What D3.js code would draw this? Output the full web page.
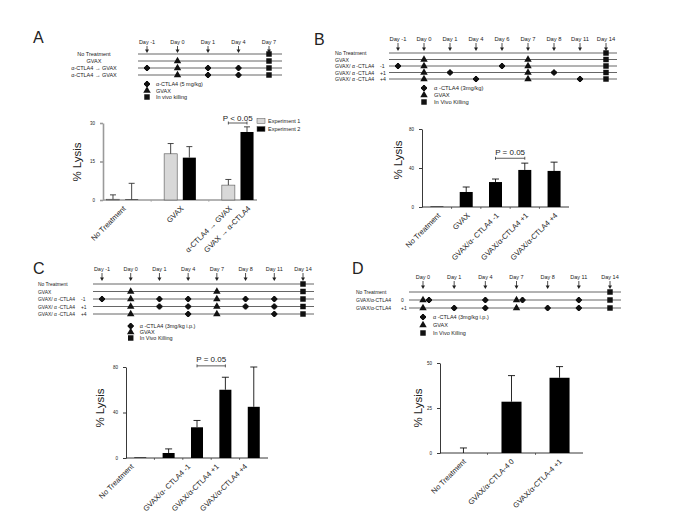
<!DOCTYPE html>
<html>
<head>
<meta charset="utf-8">
<script src="https://cdn.jsdelivr.net/npm/d3@7"></script>
<style>
  body { margin: 0; background: #fff; }
  text { font-family: "Liberation Sans", Arial, Helvetica, sans-serif; fill: #222; }
</style>
</head>
<body>
<script>
// ---------- panel A data ----------
const aDays = ["Day -1", "Day 0", "Day 1", "Day 4", "Day 7"];
const aRows = ["No Treatment", "GVAX", "α-CTLA4 → GVAX", "α-CTLA4 → GVAX"];
const aEvents = [
  [0, "Day 7", "kill"],
  [1, "Day 0", "gvax"], [1, "Day 7", "kill"],
  [2, "Day -1", "ab"], [2, "Day 0", "gvax"], [2, "Day 1", "ab"], [2, "Day 4", "ab"], [2, "Day 7", "kill"],
  [3, "Day 0", "gvax"], [3, "Day 1", "ab"], [3, "Day 4", "ab"], [3, "Day 7", "kill"]
];
const aLegend = ["α-CTLA4 (5 mg/kg)", "GVAX", "In vivo killing"];
const aGroups = ["No Treatment", "GVAX", "Sequence"];
const aSeries = ["Experiment 1", "Experiment 2"];
const aExp1 = [0.3, 18, 5.8];
const aExp1Err = [1.7, 4, 2.2];
const aExp2 = [0.2, 16.5, 26.5];
const aExp2Err = [6.3, 4.3, 2];
const aTicks = [0, 15, 30];
const aLabels = [
  ["No Treatment", "No Treatment"],
  ["GVAX", "GVAX"],
  ["α-CTLA4 → GVAX", "Sequence", "Experiment 1"],
  ["GVAX → α-CTLA4", "Sequence", "Experiment 2"]
];
const aSig = { from: ["Sequence", "Experiment 1"], to: ["Sequence", "Experiment 2"], level: 30, text: "P < 0.05" };

// ---------- panel B data ----------
const bDays = ["Day -1", "Day 0", "Day 1", "Day 4", "Day 6", "Day 7", "Day 8", "Day 11", "Day 14"];
const bRows = ["No Treatment", "GVAX", "GVAX/ α -CTLA4  -1", "GVAX/ α -CTLA4  +1", "GVAX/ α -CTLA4  +4"];
const bEvents = [
  [0, "Day 14", "kill"],
  [1, "Day 0", "gvax"], [1, "Day 7", "gvax"], [1, "Day 14", "kill"],
  [2, "Day -1", "ab"], [2, "Day 0", "gvax"], [2, "Day 6", "ab"], [2, "Day 7", "gvax"], [2, "Day 14", "kill"],
  [3, "Day 0", "gvax"], [3, "Day 1", "ab"], [3, "Day 7", "gvax"], [3, "Day 8", "ab"], [3, "Day 14", "kill"],
  [4, "Day 0", "gvax"], [4, "Day 4", "ab"], [4, "Day 7", "gvax"], [4, "Day 11", "ab"], [4, "Day 14", "kill"]
];
const bLegend = ["α -CTLA4 (3mg/kg)", "GVAX", "In Vivo Killing"];
const bCats = ["No Treatment", "GVAX", "GVAX/α- CTLA4 -1", "GVAX/α-CTLA4 +1", "GVAX/α-CTLA4 +4"];
const bValues = [0.5, 15.4, 25.6, 38, 37];
const bErr = [0, 5.1, 3.1, 7, 9];
const bTicks = [0, 40, 80];
const bSig = { from: ["GVAX/α- CTLA4 -1"], to: ["GVAX/α-CTLA4 +1"], level: 50, text: "P = 0.05" };

// ---------- panel C data ----------
const cDays = ["Day -1", "Day 0", "Day 1", "Day 4", "Day 7", "Day 8", "Day 11", "Day 14"];
const cRows = ["No Treatment", "GVAX", "GVAX/ α -CTLA4  -1", "GVAX/ α -CTLA4  +1", "GVAX/ α -CTLA4  +4"];
const cEvents = [
  [0, "Day 14", "kill"],
  [1, "Day 0", "gvax"], [1, "Day 7", "gvax"], [1, "Day 14", "kill"],
  [2, "Day -1", "ab"], [2, "Day 0", "gvax"], [2, "Day 1", "ab"], [2, "Day 4", "ab"], [2, "Day 7", "gvax"],
  [2, "Day 8", "ab"], [2, "Day 11", "ab"], [2, "Day 14", "kill"],
  [3, "Day 0", "gvax"], [3, "Day 1", "ab"], [3, "Day 4", "ab"], [3, "Day 7", "gvax"], [3, "Day 8", "ab"],
  [3, "Day 11", "ab"], [3, "Day 14", "kill"],
  [4, "Day 0", "gvax"], [4, "Day 4", "ab"], [4, "Day 7", "gvax"], [4, "Day 11", "ab"], [4, "Day 14", "kill"]
];
const cLegend = ["α -CTLA4 (3mg/kg  i.p.)", "GVAX", "In Vivo Killing"];
const cCats = ["No Treatment", "GVAX", "GVAX/α- CTLA4 -1", "GVAX/α-CTLA4 +1", "GVAX/α-CTLA4 +4"];
const cShown = ["No Treatment", "", "GVAX/α- CTLA4 -1", "GVAX/α-CTLA4 +1", "GVAX/α-CTLA4 +4"];
const cValues = [0.5, 4.4, 27, 60, 45];
const cErr = [0, 3.6, 6, 11, 35];
const cTicks = [0, 40, 80];
const cSig = { from: ["GVAX/α- CTLA4 -1"], to: ["GVAX/α-CTLA4 +1"], level: 81, text: "P = 0.05" };

// ---------- panel D data ----------
const dDays = ["Day 0", "Day 1", "Day 4", "Day 7", "Day 8", "Day 11", "Day 14"];
const dRows = ["No Treatment", "GVAX/α-CTLA4  0", "GVAX/α-CTLA4  +1"];
const dEvents = [
  [0, "Day 14", "kill"],
  [1, "Day 0", "both"], [1, "Day 4", "ab"], [1, "Day 7", "both"], [1, "Day 11", "ab"], [1, "Day 14", "kill"],
  [2, "Day 0", "gvax"], [2, "Day 1", "ab"], [2, "Day 4", "ab"], [2, "Day 7", "gvax"], [2, "Day 8", "ab"],
  [2, "Day 11", "ab"], [2, "Day 14", "kill"]
];
const dLegend = ["α -CTLA4 (3mg/kg  i.p.)", "GVAX", "In Vivo Killing"];
const dCats = ["No Treatment", "GVAX/α-CTLA-4 0", "GVAX/α-CTLA-4 +1"];
const dValues = [0, 28.5, 41.8];
const dErr = [2.8, 14.5, 6.2];
const dTicks = [0, 25, 50];

// ---------- drawing ----------
const svg = d3.select("body").append("svg")
  .attr("width", 685).attr("height", 513);
svg.append("rect").attr("width", 685).attr("height", 513).attr("fill", "#fff");

const sym = {
  dot: d3.symbol(d3.symbolCircle, 20)(),
  cross: d3.symbol(d3.symbolCross, 20)(),
  tri: d3.symbol(d3.symbolTriangle, 24)(),
  sq: d3.symbol(d3.symbolSquare, 30)()
};

function mark(g, kind, cx, cy) {
  if (kind === "both") {
    mark(g, "gvax", cx, cy);
    mark(g, "ab", cx + 6, cy);
    return;
  }
  const shapes = kind === "ab" ? [sym.dot, sym.cross] : kind === "gvax" ? [sym.tri] : [sym.sq];
  shapes.forEach(s => g.append("path").attr("d", s)
    .attr("transform", "translate(" + cx + "," + cy + ")")
    .attr("fill", "#111"));
}

function drawSchedule(p, days, rows, events, legend) {
  const g = svg.append("g");
  const x = d3.scalePoint().domain(days).range(p.days);
  const y = d3.scalePoint().domain(d3.range(rows.length)).range(p.rows);

  // day labels and arrows
  g.selectAll("text.day").data(days).join("text")
    .attr("class", "day")
    .attr("x", d => x(d)).attr("y", p.dayY)
    .attr("text-anchor", "middle")
    .attr("font-size", p.fs)
    .text(d => d);
  g.selectAll("path.arrow").data(days).join("path")
    .attr("class", "arrow")
    .attr("d", d => "M" + x(d) + "," + p.arrow[0] + "V" + (p.arrow[1] - 3))
    .attr("stroke", "#222").attr("stroke-width", 0.8);
  g.selectAll("path.head").data(days).join("path")
    .attr("class", "head")
    .attr("d", d => "M" + (x(d) - 2) + "," + (p.arrow[1] - 3.5) + "L" + (x(d) + 2) + "," + (p.arrow[1] - 3.5) + "L" + x(d) + "," + p.arrow[1] + "Z")
    .attr("fill", "#222");

  // row lines
  g.selectAll("line.row").data(rows).join("line")
    .attr("class", "row")
    .attr("x1", p.line[0]).attr("x2", p.line[1])
    .attr("y1", (d, i) => y(i)).attr("y2", (d, i) => y(i))
    .attr("stroke", "#555").attr("stroke-width", 0.9);

  // row labels
  rows.forEach((r, i) => {
    const parts = r.split("  ");
    g.append("text")
      .attr("x", p.labelX).attr("y", y(i) + 2)
      .attr("text-anchor", p.anchor || "start")
      .attr("font-size", p.rowFs || p.fs)
      .text(parts[0]);
    if (parts[1]) {
      g.append("text")
        .attr("x", p.suffixX).attr("y", y(i) + 2)
        .attr("font-size", p.rowFs || p.fs)
        .text(parts[1]);
    }
  });

  events.forEach(e => mark(g, e[2], x(e[1]), y(e[0])));

  // legend
  const ly = d3.scalePoint().domain(d3.range(legend.length)).range(p.legendY);
  const kinds = ["ab", "gvax", "kill"];
  legend.forEach((t, i) => {
    mark(g, kinds[i], x(p.legendDay), ly(i));
    g.append("text")
      .attr("x", x(p.legendDay) + p.legendGap).attr("y", ly(i) + 2)
      .attr("font-size", p.fs)
      .text(t);
  });
}

function drawBars(p, cats, series, labels, ticks, sig) {
  const g = svg.append("g");
  const x0 = d3.scaleBand().domain(cats).range(p.x)
    .paddingInner(p.pi).paddingOuter(p.po);
  const x1 = d3.scaleBand().domain(series.map(s => s.name))
    .range([0, x0.bandwidth()]).paddingInner(series.length > 1 ? 0.3 : 0);
  const y = d3.scaleLinear().domain([0, d3.max(ticks)]).range(p.y);
  const mid = (c, s) => s ? x0(c) + x1(s) + x1.bandwidth() / 2 : x0(c) + x0.bandwidth() / 2;

  // y axis
  const ax = g.append("g")
    .attr("transform", "translate(" + p.x[0] + ",0)")
    .call(d3.axisLeft(y).tickValues(ticks).tickSize(3).tickSizeOuter(0).tickPadding(5));
  ax.selectAll("path,line").attr("stroke", p.axisColor).attr("stroke-width", p.axisWidth);
  ax.selectAll("text").attr("font-size", 4.5).attr("fill", "#444")
    .style("font-family", "'Liberation Sans', Arial, sans-serif");

  // x axis line with minor ticks between categories
  g.append("line")
    .attr("x1", p.x[0]).attr("x2", p.x[1])
    .attr("y1", y(0)).attr("y2", y(0))
    .attr("stroke", p.axisColor).attr("stroke-width", p.axisWidth);
  g.selectAll("line.minor").data(cats.slice(1)).join("line")
    .attr("class", "minor")
    .attr("x1", d => x0(d) - x0.step() * p.pi / 2)
    .attr("x2", d => x0(d) - x0.step() * p.pi / 2)
    .attr("y1", y(0)).attr("y2", y(0) + 2)
    .attr("stroke", p.axisColor).attr("stroke-width", 0.6);

  // bars and error bars
  series.forEach(s => {
    const rows = cats.map((c, i) => ({ c: c, v: s.values[i], e: s.errs[i] }));
    g.selectAll(null).data(rows).join("rect")
      .attr("x", d => x0(d.c) + x1(s.name))
      .attr("y", d => y(d.v))
      .attr("width", x1.bandwidth())
      .attr("height", d => y(0) - y(d.v))
      .attr("fill", s.fill)
      .attr("stroke", s.stroke || "none")
      .attr("stroke-width", 0.6);
    const withErr = rows.filter(d => d.e > 0);
    g.selectAll(null).data(withErr).join("path")
      .attr("d", d => {
        const cx = mid(d.c, series.length > 1 ? s.name : null);
        return "M" + cx + "," + y(d.v) + "V" + y(d.v + d.e) +
          "M" + (cx - p.cap / 2) + "," + y(d.v + d.e) + "H" + (cx + p.cap / 2);
      })
      .attr("stroke", p.errColor).attr("stroke-width", 0.9).attr("fill", "none");
  });

  // rotated category labels
  labels.forEach(l => {
    const lx = mid(l[1], l[2]) + p.labDx;
    const lyy = y(0) + p.labDy;
    g.append("text")
      .attr("transform", "translate(" + lx + "," + lyy + ") rotate(-45)")
      .attr("text-anchor", "end")
      .attr("font-size", p.labFs)
      .text(l[0]);
  });

  // y title
  g.append("text")
    .attr("transform", "translate(" + p.title[0] + "," + p.title[1] + ") rotate(-90)")
    .attr("text-anchor", "middle")
    .attr("font-size", 11.5)
    .text("% Lysis");

  // significance bracket
  if (sig) {
    const xa = mid(sig.from[0], sig.from[1]);
    const xb = mid(sig.to[0], sig.to[1]);
    const yy = y(sig.level);
    g.append("path")
      .attr("d", "M" + xa + "," + (yy - 1.5) + "V" + (yy + 1.5) + "M" + xa + "," + yy + "H" + xb +
        "M" + xb + "," + (yy - 1.5) + "V" + (yy + 1.5))
      .attr("stroke", "#333").attr("stroke-width", 0.8).attr("fill", "none");
    g.append("text")
      .attr("x", (xa + xb) / 2).attr("y", yy - p.sigGap)
      .attr("text-anchor", "middle")
      .attr("font-size", 8)
      .text(sig.text);
  }
  return { g: g, y: y };
}

// panel letters
[["A", 33, 43], ["B", 314, 45], ["C", 33, 274], ["D", 352, 274]].forEach(l => {
  svg.append("text").attr("x", l[1]).attr("y", l[2])
    .attr("font-size", 16).text(l[0]);
});

// ---- A ----
drawSchedule({ days: [147, 269], rows: [54, 75], dayY: 44, arrow: [46, 53], line: [138, 282],
  labelX: 94, anchor: "middle", fs: 5.5, legendDay: "Day -1", legendY: [84, 97], legendGap: 9 },
  aDays, aRows, aEvents, aLegend);

drawBars({ x: [103, 257], y: [200, 123], pi: 0.45, po: 0.06, axisColor: "#9a9a9a", axisWidth: 1.6,
  errColor: "#333", cap: 6, labDx: 4, labDy: 9, labFs: 7.5, title: [81, 162], sigGap: 2 },
  aGroups,
  [{ name: aSeries[0], values: aExp1, errs: aExp1Err, fill: "#d8d8d8", stroke: "#555" },
   { name: aSeries[1], values: aExp2, errs: aExp2Err, fill: "#000" }],
  aLabels, aTicks, aSig);

// bar legend of panel A
const aKey = d3.scalePoint().domain(aSeries).range([121, 129]);
aSeries.forEach((s, i) => {
  svg.append("rect").attr("x", 257).attr("y", aKey(s) - 2.5).attr("width", 8).attr("height", 5)
    .attr("fill", i === 0 ? "#d8d8d8" : "#000").attr("stroke", "#555").attr("stroke-width", 0.5);
  svg.append("text").attr("x", 268).attr("y", aKey(s) + 2).attr("font-size", 5.5).text(s);
});

// ---- B ----
drawSchedule({ days: [398, 606], rows: [53, 79], dayY: 41, arrow: [43, 51], line: [389, 617],
  labelX: 335, suffixX: 380, fs: 5.8, rowFs: 5.2, legendDay: "Day 0", legendY: [88, 102], legendGap: 10 },
  bDays, bRows, bEvents, bLegend);

drawBars({ x: [422, 569], y: [207, 129], pi: 0.556, po: 0.288, axisColor: "#222", axisWidth: 0.9,
  errColor: "#111", cap: 7, labDx: 4, labDy: 9, labFs: 7.5, title: [402, 160], sigGap: 3 },
  bCats, [{ name: "v", values: bValues, errs: bErr, fill: "#000" }],
  bCats.map(c => [c, c]), bTicks, bSig);

// ---- C ----
drawSchedule({ days: [102, 303], rows: [284, 314], dayY: 271, arrow: [273, 281], line: [93, 314],
  labelX: 38, suffixX: 81, fs: 5.5, rowFs: 4.9, legendDay: "Day 0", legendY: [326, 338], legendGap: 9 },
  cDays, cRows, cEvents, cLegend);

drawBars({ x: [126, 268], y: [458, 367], pi: 0.577, po: 0.29, axisColor: "#222", axisWidth: 0.9,
  errColor: "#111", cap: 7, labDx: -6, labDy: 9, labFs: 7.5, title: [104, 408], sigGap: 4 },
  cCats, [{ name: "v", values: cValues, errs: cErr, fill: "#000" }],
  cShown.map((t, i) => [t, cCats[i]]), cTicks, cSig);

// ---- D ----
drawSchedule({ days: [423, 610], rows: [292, 308], dayY: 279, arrow: [281, 289], line: [409, 621],
  labelX: 356, suffixX: 401, fs: 5.5, rowFs: 5, legendDay: "Day 0", legendY: [317, 333], legendGap: 10 },
  dDays, dRows, dEvents, dLegend);

drawBars({ x: [440, 583], y: [453, 363], pi: 0.583, po: 0.28, axisColor: "#222", axisWidth: 0.9,
  errColor: "#111", cap: 7, labDx: 3, labDy: 9, labFs: 7.5, title: [422, 408], sigGap: 3 },
  dCats, [{ name: "v", values: dValues, errs: dErr, fill: "#000" }],
  dCats.map(c => [c, c]), dTicks, null);
</script>
</body>
</html>
